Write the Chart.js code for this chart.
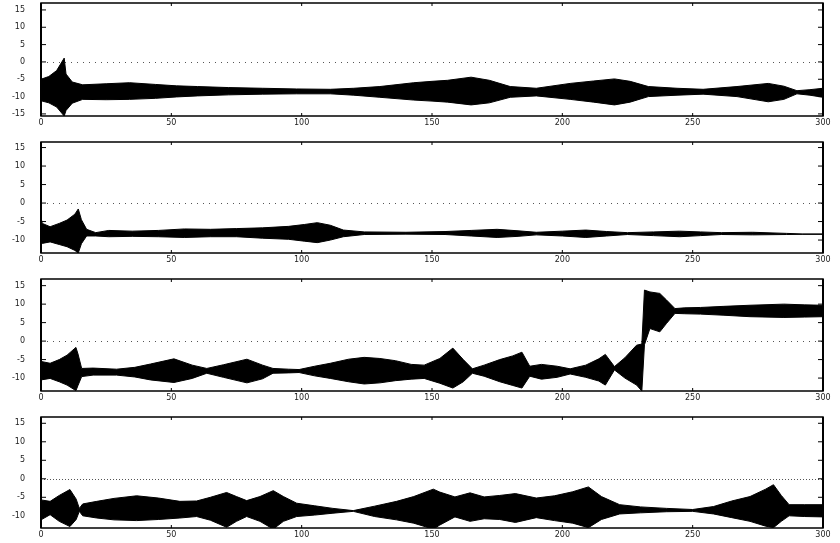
<!DOCTYPE html>
<html>
<head>
<meta charset="utf-8">
<script src="https://cdn.jsdelivr.net/npm/chart.js@4.4.0/dist/chart.umd.min.js"></script>
<style>
  body { margin: 0; background: #fff; }
  .panel { position: absolute; left: 0; width: 840px; }
</style>
</head>
<body>
<div class="panel" style="top:-3px;height:133px"><canvas id="p1"></canvas></div>
<div class="panel" style="top:130px;height:137px"><canvas id="p2"></canvas></div>
<div class="panel" style="top:267px;height:138px"><canvas id="p3"></canvas></div>
<div class="panel" style="top:405px;height:138px"><canvas id="p4"></canvas></div>
<script>
// tick labels shared by all panels
const xTicks = [0, 50, 100, 150, 200, 250, 300];
const yTicks = [-15, -10, -5, 0, 5, 10, 15];

// panel 1 - envelope of the oscillation (upper / lower)
const p1X  = [0, 3, 6, 8.9, 9.6, 12, 16, 25, 34, 44, 52, 60, 72, 85, 98, 111, 120, 130, 143, 150, 156, 165, 172, 180, 190, 203, 212, 220, 226, 233, 244, 254, 267, 279, 285, 290, 295, 300];
const p1Hi = [-5.0, -4.2, -2.5, 1.1, -3.5, -5.8, -6.6, -6.3, -6.0, -6.5, -6.9, -7.1, -7.4, -7.6, -7.8, -7.9, -7.6, -7.1, -6.0, -5.6, -5.3, -4.4, -5.3, -7.1, -7.6, -6.2, -5.5, -4.9, -5.6, -7.1, -7.6, -7.9, -7.1, -6.2, -7.0, -8.3, -8.0, -7.6];
const p1Lo = [-11.2, -11.8, -13.0, -15.6, -14.0, -11.9, -10.8, -10.9, -10.8, -10.5, -10.1, -9.8, -9.5, -9.3, -9.2, -9.2, -9.6, -10.2, -11.0, -11.3, -11.6, -12.4, -11.8, -10.2, -9.8, -10.8, -11.6, -12.4, -11.6, -10.0, -9.6, -9.3, -10.0, -11.5, -10.8, -9.2, -9.6, -10.2];

// panel 2
const p2X  = [0, 0.5, 3.5, 7, 10, 13, 14.3, 15.5, 17.5, 21, 26, 35, 45, 55, 65, 75, 85, 95, 101, 106, 111, 116, 124, 140, 155, 165, 175, 183, 190, 200, 209, 217, 225, 235, 245, 253, 261, 273, 286, 292, 300];
const p2Hi = [-4.0, -5.5, -6.4, -5.5, -4.6, -3.0, -1.6, -4.5, -7.1, -8.0, -7.4, -7.6, -7.4, -7.0, -7.1, -6.9, -6.7, -6.3, -5.8, -5.3, -6.0, -7.3, -7.8, -7.9, -7.7, -7.4, -7.1, -7.5, -7.9, -7.6, -7.3, -7.7, -8.0, -7.8, -7.6, -7.8, -8.0, -7.9, -8.2, -8.35, -8.35];
const p2Lo = [-10.5, -10.9, -10.5, -11.2, -11.8, -12.8, -13.5, -11.0, -8.9, -8.9, -9.1, -9.0, -9.1, -9.3, -9.1, -9.1, -9.5, -9.8, -10.3, -10.7, -10.0, -9.1, -8.5, -8.4, -8.5, -8.9, -9.3, -9.0, -8.6, -8.9, -9.3, -8.9, -8.5, -8.8, -9.1, -8.8, -8.5, -8.6, -8.5, -8.45, -8.45];

// panel 3
const p3X  = [0, 3.5, 7, 10, 13.4, 14.2, 15.6, 20, 29, 36, 42, 51, 58, 63.6, 70, 79, 85, 89, 95, 99, 105, 111, 118, 124, 130, 136, 142, 147, 153, 158, 162, 165.5, 170, 176, 181, 184.5, 187.5, 192, 198, 203, 209, 214, 216.5, 220, 224, 228.5, 230.5, 231.5, 233.6, 237.4, 240, 243.2, 247, 253, 262, 272, 285, 293, 300];
const p3Hi = [-5.5, -6.0, -5.0, -3.8, -1.7, -3.5, -7.4, -7.3, -7.6, -7.1, -6.2, -4.8, -6.5, -7.4, -6.4, -4.9, -6.5, -7.4, -7.6, -7.7, -6.8, -6.0, -4.9, -4.4, -4.7, -5.3, -6.3, -6.5, -4.7, -1.9, -5.0, -7.5, -6.5, -5.0, -4.0, -3.0, -6.8, -6.3, -6.8, -7.5, -6.5, -4.8, -3.6, -6.9, -4.5, -1.1, -0.8, 13.8, 13.3, 12.9, 11.1, 8.8, 9.0, 9.1, 9.4, 9.7, 10.0, 9.8, 9.7];
const p3Lo = [-10.5, -10.1, -11.0, -11.9, -13.4, -12.0, -9.6, -9.2, -9.2, -9.7, -10.5, -11.2, -10.1, -8.7, -9.8, -11.3, -10.2, -8.7, -8.6, -8.5, -9.4, -10.1, -11.0, -11.6, -11.3, -10.7, -10.3, -10.1, -11.4, -12.7, -11.0, -8.7, -9.5, -11.0, -12.0, -12.7, -9.5, -10.3, -9.8, -8.9, -9.8, -10.8, -11.9, -7.8, -10.0, -11.9, -13.5, -1.0, 3.4, 2.5, 4.8, 7.5, 7.4, 7.3, 7.0, 6.6, 6.4, 6.5, 6.6];

// panel 4
const p4X  = [0, 3.5, 7, 11.1, 13.5, 14.7, 16, 21.4, 28, 36.7, 45, 53.3, 59.7, 65, 71.2, 75, 78.9, 84, 89.1, 93, 98.1, 105, 112, 119.8, 128, 136.4, 143, 150.5, 153, 158.8, 164.6, 170, 176, 182, 190, 197, 204, 210, 215, 222, 230, 240, 250, 258, 265, 272, 278, 281, 284, 287, 293, 300];
const p4Hi = [-5.7, -6.1, -4.5, -2.9, -5.5, -8.0, -6.8, -6.1, -5.3, -4.6, -5.2, -6.1, -6.0, -5.0, -3.7, -4.8, -5.9, -4.8, -3.2, -4.8, -6.6, -7.3, -8.0, -8.6, -7.4, -6.1, -4.8, -2.8, -3.6, -4.9, -3.8, -4.9, -4.5, -4.0, -5.2, -4.6, -3.5, -2.2, -4.8, -7.0, -7.6, -8.0, -8.3, -7.5, -6.0, -4.8, -2.8, -1.6, -4.5, -7.0, -7.0, -7.0];
const p4Lo = [-11.1, -9.7, -11.5, -12.9, -11.0, -8.8, -10.0, -10.6, -11.1, -11.3, -11.0, -10.6, -10.2, -11.2, -13.1, -11.5, -10.2, -11.5, -13.6, -11.5, -10.2, -9.8, -9.3, -8.8, -10.2, -11.1, -12.0, -13.6, -12.5, -10.3, -11.5, -10.8, -11.0, -11.8, -10.5, -11.3, -12.0, -13.2, -11.0, -9.5, -9.2, -8.9, -8.8, -9.5, -10.5, -11.5, -12.8, -13.2, -11.5, -10.0, -10.2, -10.3];

// y ranges of each panel
const yRanges = [[-15.6, 17.0], [-13.5, 16.5], [-13.5, 16.8], [-13.3, 16.7]];

// zero line and frame with inward ticks
const framePlugin = {
  id: 'frame',
  beforeDatasetsDraw(chart, args, opts) {
    const { ctx, chartArea: a, scales: { y } } = chart;
    const y0 = Math.round(y.getPixelForValue(0)) + 0.5;
    ctx.save();
    ctx.strokeStyle = '#555';
    ctx.lineWidth = 1;
    ctx.setLineDash(opts.dash);
    ctx.beginPath();
    ctx.moveTo(a.left, y0);
    ctx.lineTo(a.right, y0);
    ctx.stroke();
    ctx.restore();
  },
  afterDraw(chart) {
    const { ctx, chartArea: a, scales: { x, y } } = chart;
    ctx.save();
    ctx.strokeStyle = '#000';
    ctx.lineWidth = 1.5;
    ctx.strokeRect(a.left, a.top, a.right - a.left, a.bottom - a.top);
    ctx.lineWidth = 2;
    ctx.beginPath();
    ctx.moveTo(a.left, a.top); ctx.lineTo(a.left, a.bottom);
    ctx.moveTo(a.right, a.top); ctx.lineTo(a.right, a.bottom);
    ctx.stroke();
    ctx.lineWidth = 1;
    ctx.beginPath();
    y.ticks.forEach(t => {
      const py = y.getPixelForValue(t.value);
      ctx.moveTo(a.left, py); ctx.lineTo(a.left + 5, py);
      ctx.moveTo(a.right, py); ctx.lineTo(a.right - 5, py);
    });
    x.ticks.forEach(t => {
      const px = x.getPixelForValue(t.value);
      ctx.moveTo(px, a.top); ctx.lineTo(px, a.top + 3);
      ctx.moveTo(px, a.bottom); ctx.lineTo(px, a.bottom - 3);
    });
    ctx.stroke();
    ctx.restore();
  }
};

function toPoints(xs, ys) {
  return xs.map((v, i) => ({ x: v, y: ys[i] }));
}

function makePanel(id, xs, hi, lo, range, padTop, axisH, dash) {
  new Chart(document.getElementById(id), {
    type: 'line',
    data: {
      datasets: [{
        data: toPoints(xs, hi),
        borderColor: '#000',
        backgroundColor: '#000',
        borderWidth: 1,
        pointRadius: 0,
        tension: 0,
        fill: '+1'
      }, {
        data: toPoints(xs, lo),
        borderColor: '#000',
        borderWidth: 1,
        pointRadius: 0,
        tension: 0,
        fill: false
      }]
    },
    options: {
      responsive: true,
      maintainAspectRatio: false,
      animation: false,
      layout: { padding: { top: padTop, right: 17, left: 0, bottom: 0 } },
      plugins: {
        legend: { display: false },
        tooltip: { enabled: false },
        frame: { dash: dash }
      },
      scales: {
        x: {
          type: 'linear',
          min: 0,
          max: 300,
          afterBuildTicks: s => { s.ticks = xTicks.map(v => ({ value: v })); },
          afterFit: s => { s.height = axisH; },
          grid: { display: false, drawTicks: false },
          border: { display: false },
          ticks: { padding: 2, maxRotation: 0, color: '#222', font: { family: 'DejaVu Sans', size: 8 } }
        },
        y: {
          min: range[0],
          max: range[1],
          afterBuildTicks: s => {
            s.ticks = yTicks.filter(v => v >= range[0] && v <= range[1]).map(v => ({ value: v }));
          },
          afterFit: s => { s.width = 41; s.paddingTop = 2; s.paddingBottom = 2; },
          grid: { display: false, drawTicks: false },
          border: { display: false },
          ticks: { padding: 16, color: '#222', font: { family: 'DejaVu Sans', size: 8 } }
        }
      }
    },
    plugins: [framePlugin]
  });
}

makePanel('p1', p1X, p1Hi, p1Lo, yRanges[0], 6, 14, [1, 5]);
makePanel('p2', p2X, p2Hi, p2Lo, yRanges[1], 12, 14, [1, 5]);
makePanel('p3', p3X, p3Hi, p3Lo, yRanges[2], 12, 14, [1, 5]);
makePanel('p4', p4X, p4Hi, p4Lo, yRanges[3], 12, 15, [1, 2]);
</script>
</body>
</html>
